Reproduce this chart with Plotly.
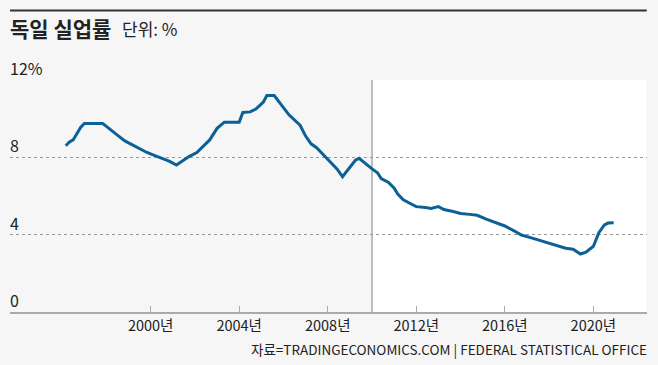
import plotly.graph_objects as go

W, H = 658, 365

# ---- data ----
dates = ["1996-03", "1996-05", "1996-07", "1996-09", "1996-11", "1997-01", "1997-06", "1997-11",
         "1998-01", "1998-04", "1998-07", "1998-11", "1999-03", "1999-07", "1999-11",
         "2000-03", "2000-07", "2000-11", "2001-03", "2001-07", "2001-10", "2002-02",
         "2002-06", "2002-09", "2003-01", "2003-05", "2004-01", "2004-03", "2004-07",
         "2004-10", "2005-02", "2005-04", "2005-08", "2005-11", "2006-04", "2006-10",
         "2007-01", "2007-04", "2007-07", "2007-10", "2008-02", "2008-06", "2008-09",
         "2009-01", "2009-04", "2009-06", "2009-09", "2010-01", "2010-04", "2010-06",
         "2010-10", "2011-01", "2011-03", "2011-06", "2011-10", "2012-01", "2012-06",
         "2012-09", "2013-01", "2013-04", "2013-09", "2014-01", "2014-06", "2014-10",
         "2015-03", "2015-09", "2016-01", "2016-06", "2016-10", "2017-03", "2017-08",
         "2018-01", "2018-06", "2018-10", "2019-02", "2019-06", "2019-09", "2020-01",
         "2020-04", "2020-07", "2020-09", "2020-12"]
rate = [8.6, 8.8, 8.9, 9.25, 9.55, 9.75, 9.75, 9.75,
        9.6, 9.4, 9.15, 8.85, 8.65, 8.45, 8.25,
        8.1, 7.95, 7.8, 7.6, 7.85, 8.05, 8.25,
        8.6, 8.9, 9.5, 9.82, 9.82, 10.32, 10.35,
        10.5, 10.85, 11.2, 11.2, 10.8, 10.2, 9.66,
        9.1, 8.7, 8.5, 8.2, 7.8, 7.4, 7.0,
        7.5, 7.85, 7.95, 7.7, 7.4, 7.2, 6.9,
        6.7, 6.4, 6.1, 5.8, 5.6, 5.45, 5.4,
        5.35, 5.45, 5.3, 5.2, 5.1, 5.05, 5.0,
        4.8, 4.6, 4.45, 4.2, 3.98, 3.85, 3.7,
        3.58, 3.42, 3.3, 3.25, 3.0, 3.1, 3.4,
        4.1, 4.5, 4.6, 4.62]

x_ticks = ["2000-01-01", "2004-01-01", "2008-01-01", "2012-01-01", "2016-01-01", "2020-01-01"]
x_tick_labels = ["2000년", "2004년", "2008년", "2012년", "2016년", "2020년"]
y_ticks = [0, 4, 8, 12]
y_tick_labels = ["0", "4", "8", "12%"]
split_date = "2010-01-01"

title = "독일 실업률"
unit = "단위: %"
source = "자료=TRADINGECONOMICS.COM | FEDERAL STATISTICAL OFFICE"

# ---- layout geometry ----
BG = "#f6f6f6"
LINE = "#0b6196"
FONT = "Noto Sans CJK KR, Noto Sans, sans-serif"

x_left, x_right = 10, 646.7
y_bottom, y_top = 312, 80
x_end = "2022-05-30"

fig = go.Figure()
fig.add_trace(go.Scatter(x=dates, y=rate, mode="lines",
                         line=dict(color=LINE, width=3, shape="linear"),
                         hoverinfo="skip", showlegend=False))

fig.update_layout(
    width=W, height=H,
    margin=dict(l=0, r=0, t=0, b=0),
    paper_bgcolor=BG, plot_bgcolor=BG,
    showlegend=False,
    xaxis=dict(domain=[x_left / W, x_right / W], type="date",
               range=["1993-08-24", x_end],
               tickvals=x_ticks, ticktext=x_tick_labels,
               ticks="inside", ticklen=6, tickcolor="#aaaaaa", tickwidth=1,
               showline=True, linecolor="#aaaaaa", linewidth=1.5,
               showgrid=False, zeroline=False,
               tickfont=dict(family=FONT, size=14.5, color="#222222")),
    yaxis=dict(domain=[(H - y_bottom) / H, (H - y_top) / H],
               range=[0, 12], tickvals=[4, 8, 12], showticklabels=False,
               showgrid=True, gridcolor="#999999", gridwidth=1, griddash="dot",
               zeroline=False, showline=False, ticks=""),
    font=dict(family=FONT, color="#222222"),
)

# white region after split
fig.add_shape(type="rect", xref="x", yref="y", x0=split_date, x1=x_end,
              y0=0, y1=12, fillcolor="white", line=dict(width=0), layer="below")
fig.add_shape(type="line", xref="x", yref="y", x0=split_date, x1=split_date,
              y0=0, y1=12, line=dict(color="#aaaaaa", width=1.5), layer="below")

# top rule
fig.add_shape(type="line", xref="paper", yref="paper",
              x0=x_left / W, x1=x_right / W, y0=(H - 10.5) / H, y1=(H - 10.5) / H,
              line=dict(color="#333333", width=2))

# y labels
for v, t in zip(y_ticks, y_tick_labels):
    fig.add_annotation(x=x_left / W, xref="paper", y=v, yref="y", text=t,
                       showarrow=False, xanchor="left", yanchor="bottom",
                       yshift=-2, xshift=-2,
                       font=dict(family=FONT, size=16, color="#222222"))

# title
fig.add_annotation(x=10 / W, y=(H - 28) / H, xref="paper", yref="paper",
                   text=f"<b>{title}</b>", showarrow=False, xanchor="left", yanchor="middle",
                   xshift=-2, font=dict(family=FONT, size=21, color="#222222"))
fig.add_annotation(x=122 / W, y=(H - 28) / H, xref="paper", yref="paper",
                   text=unit, showarrow=False, xanchor="left", yanchor="middle",
                   xshift=-2, font=dict(family=FONT, size=17, color="#222222"))

# source
fig.add_annotation(x=x_right / W, y=(H - 349) / H, xref="paper", yref="paper",
                   text=source, showarrow=False, xanchor="right", yanchor="middle",
                   xshift=2, font=dict(family=FONT, size=13.5, color="#222222"))

fig.write_html("out.html",
               config={"displayModeBar": False, "staticPlot": True},
               post_script="document.body.style.margin='0px';"
                           "document.body.style.background='#f6f6f6';")
